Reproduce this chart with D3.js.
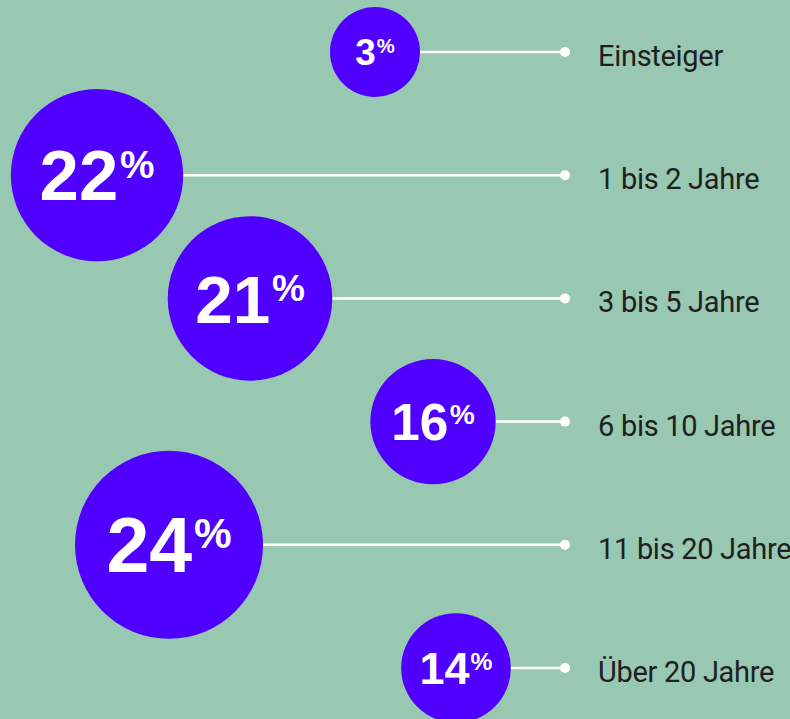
<!DOCTYPE html>
<html>
<head>
<meta charset="utf-8">
<script src="https://cdn.jsdelivr.net/npm/d3@7"></script>
<style>
    html, body { margin: 0; padding: 0; background: #98c8b2; }
    #chart { width: 790px; height: 719px; }
</style>
</head>
<body>
<div id="chart"></div>
<script>
// Data /////////////////////////////////////////////////////////////////
const categories = ['Einsteiger', '1 bis 2 Jahre', '3 bis 5 Jahre', '6 bis 10 Jahre', '11 bis 20 Jahre', 'Über 20 Jahre']
const shares = [3, 22, 21, 16, 24, 14]
// horizontal stagger of the bubbles (layout, not data)
const bubbleX = [375, 97, 250, 433, 169, 456]
/////////////////////////////////////////////////////////////////////////

function draw() {
    const dataset = categories.map((c, i) => ({ label: c, value: shares[i], x: bubbleX[i] }))

    // Dimensions////////////////////////////////////////////////////////
    let dimensions = {
        width: 790,
        height: 719,
        lineEnd: 565,
        labelX: 598,
        minRadius: 45
    }

    const svg = d3.select('#chart')
        .append('svg')
        .attr('width', dimensions.width)
        .attr('height', dimensions.height)

    svg.append('rect')
        .attr('width', dimensions.width)
        .attr('height', dimensions.height)
        .attr('fill', '#98c8b2')

    // Scales////////////////////////////////////////////////////////////
    const yScale = d3.scalePoint()
        .domain(categories)
        .range([52, 668])

    const rScale = d3.scaleLinear()
        .domain([0, 24])
        .range([0, 94])

    const radius = d => Math.max(dimensions.minRadius, rScale(d.value))

    const rows = svg.selectAll('g.row')
        .data(dataset)
        .join('g')
        .attr('class', 'row')
        .attr('transform', d => `translate(0, ${yScale(d.label)})`)

    // connector lines
    rows.append('line')
        .attr('x1', d => d.x + radius(d) - 2)
        .attr('x2', dimensions.lineEnd)
        .attr('y1', 0)
        .attr('y2', 0)
        .attr('stroke', '#ffffff')
        .attr('stroke-width', 2.5)

    rows.append('circle')
        .attr('cx', dimensions.lineEnd)
        .attr('cy', 0)
        .attr('r', 5)
        .attr('fill', '#ffffff')

    // bubbles
    rows.append('circle')
        .attr('cx', d => d.x)
        .attr('cy', 0)
        .attr('r', radius)
        .attr('fill', '#5000ff')

    // values
    const valueText = rows.append('text')
        .attr('x', d => d.x)
        .attr('y', d => 0.358 * radius(d) * 0.82)
        .attr('text-anchor', 'middle')
        .attr('fill', '#ffffff')
        .style('font-family', '"Liberation Sans", Arial, sans-serif')
        .style('font-weight', 'bold')

    valueText.append('tspan')
        .style('font-size', d => `${radius(d) * 0.82}px`)
        .text(d => d.value)

    valueText.append('tspan')
        .attr('dx', d => radius(d) * 0.02)
        .attr('dy', d => -(0.716 * radius(d) * 0.82 - 0.72 * radius(d) * 0.45))
        .style('font-size', d => `${radius(d) * 0.45}px`)
        .text('%')

    // labels
    rows.append('text')
        .attr('x', dimensions.labelX)
        .attr('y', 4)
        .attr('dominant-baseline', 'central')
        .attr('fill', '#202020')
        .style('font-family', 'Roboto, sans-serif')
        .style('font-size', '29px')
        .style('letter-spacing', '-0.3px')
        .text(d => d.label)
}

draw()
</script>
</body>
</html>
